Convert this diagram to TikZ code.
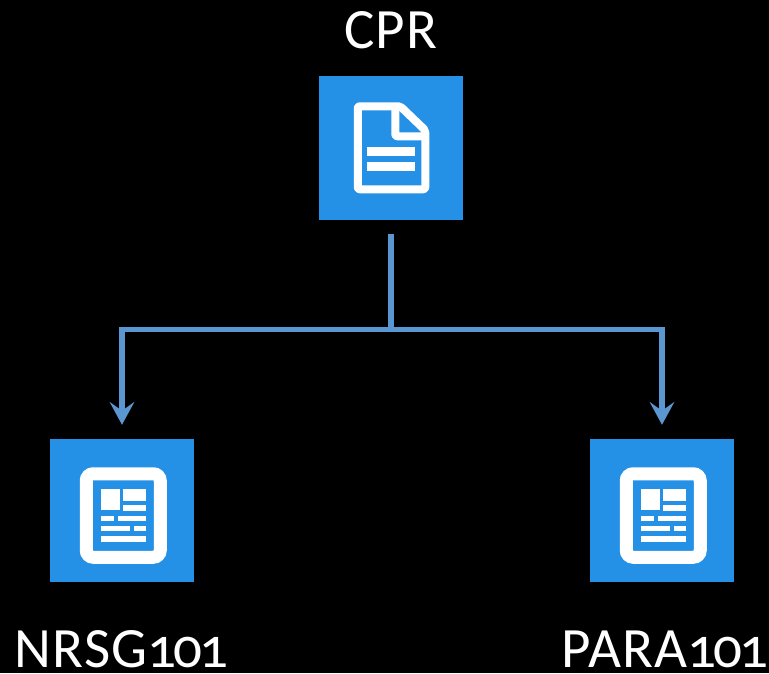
\documentclass[tikz,border=0pt]{standalone}
\usepackage{fontspec}
\setmainfont[Numbers=OldStyle]{Carlito}
\usetikzlibrary{arrows.meta}
\definecolor{tileblue}{HTML}{2490E6}
\definecolor{linkblue}{HTML}{5A96CF}
\newcommand{\capwide}[1]{{\addfontfeature{LetterSpace=2.5}#1}}
\newcommand{\capnarrow}[1]{{\addfontfeature{LetterSpace=-5}#1}}
\tikzset{
  x=1pt,y=-1pt,
  tile/.style={fill=tileblue,draw=none,minimum size=143.5pt,inner sep=0pt,outer sep=0pt},
  caption/.style={text=white,inner sep=0pt,outer sep=0pt,anchor=base,font=\fontsize{57}{60}\selectfont},
  linkline/.style={draw=linkblue,line width=5.5pt},
  linkarrow/.style={linkline,-{Stealth[length=23pt,width=25pt,inset=9pt,line width=0pt]},shorten >=14pt},
  docicon/.pic={
    \draw[white,line width=8pt,line join=round,rounded corners=2pt]
      (38.5,30) -- (81,30) -- (106,54) -- (106,113) -- (38.5,113) -- cycle;
    \draw[white,line width=8pt,line join=round,rounded corners=2pt]
      (76,30) -- (76,60) -- (106,60);
    \fill[white] (48,71) rectangle (96,79.7);
    \fill[white] (48,86) rectangle (96,94.7);
  },
  newsicon/.pic={
    \draw[white,line width=13pt,rounded corners=7pt] (36,35) rectangle (110,118.5);
    \fill[white] (51,50.3) rectangle (69.3,71.7);
    \fill[white] (72.7,50.3) rectangle (96,62.7);
    \fill[white] (72.7,66.7) rectangle (96,72);
    \fill[white] (51,77) rectangle (63.3,82.7);
    \fill[white] (67.3,77) rectangle (96,82.7);
    \fill[white] (51,87.7) rectangle (79.3,92.7);
    \fill[white] (83.3,87.7) rectangle (96,92.7);
    \fill[white] (51,97.7) rectangle (96,103.3);
  }
}
\begin{document}
\begin{tikzpicture}
\useasboundingbox (0,0) rectangle (769,673);
\fill[black] (0,0) rectangle (769,673);
\node[tile] (cpr) at (391,148) {};
\node[tile] (nrsg) at (122,510.5) {};
\node[tile] (para) at (662,510.5) {};
\pic at (cpr.north west) {docicon};
\pic at (nrsg.north west) {newsicon};
\pic at (para.north west) {newsicon};
\coordinate (fork) at (391,329.5);
\draw[linkline,shorten <=14pt] (cpr.south) -- (fork);
\draw[linkarrow] (fork) -| (nrsg.north);
\draw[linkarrow] (fork) -| (para.north);
\node[caption] (cprlabel) at (391,48) {\capwide{CPR}};
\node[caption] (nrsglabel) at (121.5,667) {\capwide{NRSG}\capnarrow{101}};
\node[caption] (paralabel) at (665,667) {\capwide{PARA}\capnarrow{101}};
\end{tikzpicture}
\end{document}
